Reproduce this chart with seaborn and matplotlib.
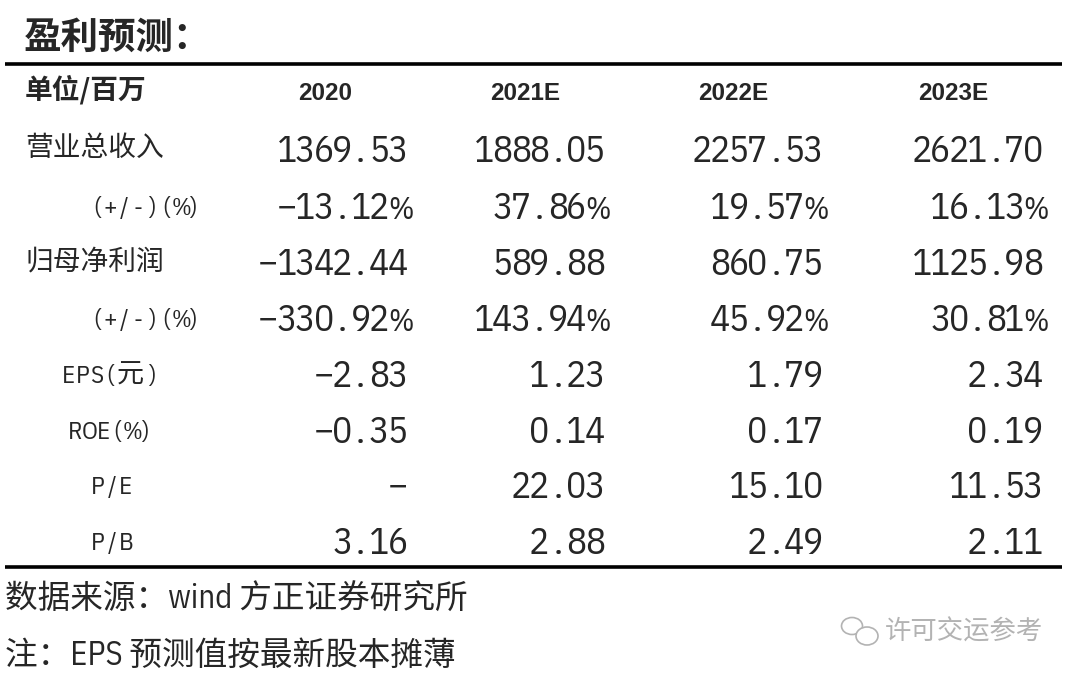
import matplotlib
matplotlib.use("Agg")
import matplotlib.pyplot as plt
from matplotlib.patches import Ellipse
import seaborn as sns

# ---- data ----
years = ["2020", "2021E", "2022E", "2023E"]
row_labels = ["营业总收入", "(+/-)(%)", "归母净利润", "(+/-)(%)", "EPS(元)", "ROE(%)", "P/E", "P/B"]
revenue = [1369.53, 1888.05, 2257.53, 2621.70]
revenue_growth = [-13.12, 37.86, 19.57, 16.13]
net_profit = [-1342.44, 589.88, 860.75, 1125.98]
profit_growth = [-330.92, 143.94, 45.92, 30.81]
eps = [-2.83, 1.23, 1.79, 2.34]
roe = [-0.35, 0.14, 0.17, 0.19]
pe = [None, 22.03, 15.10, 11.53]
pb = [3.16, 2.88, 2.49, 2.11]
title = "盈利预测："
unit_label = "单位/百万"
source_note = "数据来源：wind 方正证券研究所"
eps_note = "注：EPS 预测值按最新股本摊薄"
watermark = "许可交运参考"

rows = [(revenue, False), (revenue_growth, True), (net_profit, False), (profit_growth, True),
        (eps, False), (roe, False), (pe, False), (pb, False)]


def fmt(v, pct):
    if v is None:
        return "−"
    s = f"{abs(v):.2f}" + ("%" if pct else "")
    return ("−" if v < 0 else "") + s


sns.set_theme(style="white")
plt.rcParams["font.family"] = ["Noto Sans CJK SC", "DejaVu Sans"]

COND = ["IBM Plex Sans Condensed", "Noto Sans CJK SC", "DejaVu Sans"]
CJK = ["Noto Sans CJK SC", "DejaVu Sans"]
BOLDSANS = ["Liberation Sans", "Noto Sans CJK SC", "DejaVu Sans"]


def is_full(c):
    return ord(c) >= 0x2E80


def mono_text(ax, x, y, s, cell, ha="left", fs=20, cjk_fs=None, pct_fs=None, pct_shift=0.0,
              weight="normal"):
    """Half-width cell layout (like the reference's SimHei-style digits); y is the baseline."""
    widths = [2 * cell if is_full(c) else cell for c in s]
    total = sum(widths)
    x0 = x if ha == "left" else (x - total if ha == "right" else x - total / 2)
    cur = x0
    for c, w in zip(s, widths):
        if is_full(c):
            ax.text(cur + w / 2, y, c, fontsize=cjk_fs or fs, family=CJK, ha="center",
                    va="baseline", fontweight=weight)
        elif c != " ":
            size, dx = fs, 0.0
            if c == "%" and pct_fs:
                size, dx = pct_fs, pct_shift
            ax.text(cur + w / 2 + dx, y, c, fontsize=size, family=COND, ha="center",
                    va="baseline", fontweight=weight)
        cur += w


fig = plt.figure(figsize=(10.8, 6.83), dpi=100)
ax = fig.add_axes([0, 0, 1, 1])
ax.set_xlim(0, 1080)
ax.set_ylim(683, 0)
ax.axis("off")

# title and rules
ax.text(24, 37, title, fontsize=27, fontweight="bold", va="center", ha="left", family=CJK)
ax.plot([5, 1062], [64, 64], color="black", lw=2.6, solid_capstyle="butt")
ax.plot([5, 1062], [567, 567], color="black", lw=2.6, solid_capstyle="butt")

header_x = [325, 525, 733, 953]
value_right = [407, 604, 822, 1042]
row_y = [148, 205, 261, 317, 373, 429, 484, 540]
label_x = [25, 145, 25, 145, 110, 110, 112, 112]
label_ha = ["left", "center", "left", "center", "center", "center", "center", "center"]

# header
ax.text(25, 90, unit_label, fontsize=20, fontweight="bold", va="center", ha="left", family=CJK)
for x, y in zip(header_x, years):
    ax.text(x, 94, y, fontsize=17.5, fontweight="bold", va="center", ha="center", family=BOLDSANS)

# body
for i, (lab, (vals, pct)) in enumerate(zip(row_labels, rows)):
    yc = row_y[i]
    if is_full(lab[0]):
        ax.text(label_x[i], yc, lab, fontsize=20, va="center", ha=label_ha[i], family=CJK)
    else:
        mono_text(ax, label_x[i], yc + 10, lab, 13.8, ha=label_ha[i], fs=18, cjk_fs=19.5,
                  pct_fs=17, pct_shift=1.5)
    for j, v in enumerate(vals):
        mono_text(ax, value_right[j], yc + 14, fmt(v, pct), 18.5, ha="right", fs=27,
                  pct_fs=22, pct_shift=3.5)

# footnotes
ax.text(5, 600, source_note, fontsize=23.5, va="center", ha="left", family=COND)
ax.text(5, 656, eps_note, fontsize=23.5, va="center", ha="left", family=COND)

# watermark
wm_col = "#b3b3b3"
ax.add_patch(Ellipse((852, 626), 21, 17, fill=False, ec=wm_col, lw=1.2))
ax.add_patch(Ellipse((867, 636), 22, 18, fill=True, ec=wm_col, lw=1.2, fc="white"))
ax.text(1043, 632, watermark, fontsize=19, va="center", ha="right", color=wm_col, family=CJK)

fig.savefig("out.png", dpi=100)
